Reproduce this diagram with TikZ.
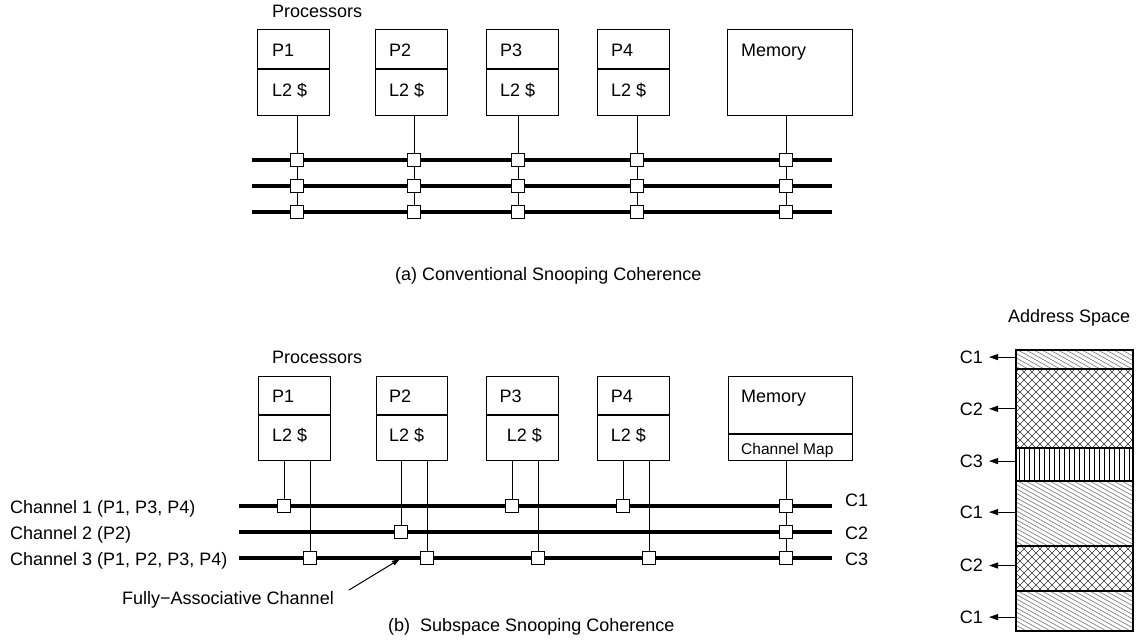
\documentclass[tikz,border=0pt]{standalone}
\usepackage{fontspec}
\setmainfont{Liberation Sans}
\usetikzlibrary{arrows.meta,backgrounds}

% hatchings for the address-space bands (top y, bottom y)
\newcommand\hatchdiag[2]{%
  \begin{scope}
    \clip (1015,#1) rectangle (1132,#2);
    \foreach \x in {872,880,...,1136} \draw[diagline] (\x,#1) -- ++(160,88);
  \end{scope}}
\newcommand\hatchcross[2]{%
  \begin{scope}
    \clip (1015,#1) rectangle (1132,#2);
    \foreach \x in {900,908,...,1248} {
      \draw[crossline] (\x,#1) -- ++(110,110);
      \draw[crossline] (\x,#1) -- ++(-110,110);}
  \end{scope}}
\newcommand\hatchvert[2]{%
  \begin{scope}
    \clip (1015,#1) rectangle (1132,#2);
    \foreach \x in {1019,1024,...,1130} \draw[vertline] (\x,#1) -- (\x,#2);
  \end{scope}}

\begin{document}
\begin{tikzpicture}[x=1pt,y=-1pt,
  txt/.style={anchor=base west,inner sep=0pt,font=\fontsize{18pt}{21pt}\selectfont},
  rtxt/.style={txt,anchor=base east},
  smalltxt/.style={anchor=base west,inner sep=0pt,font=\fontsize{15.5pt}{18pt}\selectfont},
  unitbox/.style={draw,line width=1.2pt,anchor=north west,inner sep=0pt},
  sq/.style={draw,fill=white,line width=1pt,minimum size=12.5pt,inner sep=0pt},
  bus/.style={line width=4pt},
  wire/.style={line width=1pt},
  divider/.style={line width=1.1pt},
  seg/.style={draw,line width=1.5pt,anchor=north west,inner sep=0pt,minimum width=117pt},
  diagline/.style={line width=0.6pt,black!55},
  crossline/.style={line width=0.6pt,black!80},
  vertline/.style={line width=0.8pt,black},
  ptr/.style={line width=1pt,-{Triangle[length=9pt,width=6pt]}},
]
\useasboundingbox (0,0) rectangle (1137,640);

% ---------------- (a) conventional snooping ----------------
\node[txt] (aproc) at (272,17.3) {Processors};

\node[unitbox,minimum width=72pt,minimum height=86pt] (ap1) at (257,29) {};
\node[unitbox,minimum width=72pt,minimum height=86pt] (ap2) at (375,29) {};
\node[unitbox,minimum width=72pt,minimum height=86pt] (ap3) at (486,29) {};
\node[unitbox,minimum width=72pt,minimum height=86pt] (ap4) at (597,29) {};
\node[unitbox,minimum width=125pt,minimum height=86pt] (amem) at (727,29) {};
\draw[divider] (257,69) -- (329,69);
\draw[divider] (375,69) -- (447,69);
\draw[divider] (486,69) -- (558,69);
\draw[divider] (597,69) -- (669,69);

\node[txt] (ap1n) at (272,56) {P1};
\node[txt] (ap2n) at (389,56) {P2};
\node[txt] (ap3n) at (500,56) {P3};
\node[txt] (ap4n) at (611,56) {P4};
\node[txt] (ap1c) at (272,96) {L2 \$};
\node[txt] (ap2c) at (389,96) {L2 \$};
\node[txt] (ap3c) at (500,96) {L2 \$};
\node[txt] (ap4c) at (611,96) {L2 \$};
\node[txt] (amemn) at (741,56.7) {Memory};

\coordinate (ab1w) at (252,160); \coordinate (ab1e) at (832,160);
\coordinate (ab2w) at (252,186); \coordinate (ab2e) at (832,186);
\coordinate (ab3w) at (252,212); \coordinate (ab3e) at (832,212);

\foreach \n/\x in {1/297,2/414,3/518,4/637,m/786} {
  \node[sq] (a\n1) at (\x,160) {};
  \node[sq] (a\n2) at (\x,186) {};
  \node[sq] (a\n3) at (\x,212) {};
}

\begin{pgfonlayer}{background}
  \draw[bus] (ab1w) -- (ab1e);
  \draw[bus] (ab2w) -- (ab2e);
  \draw[bus] (ab3w) -- (ab3e);
  \draw[wire] (a11 |- ap1.south) -- (a13);
  \draw[wire] (a21 |- ap2.south) -- (a23);
  \draw[wire] (a31 |- ap3.south) -- (a33);
  \draw[wire] (a41 |- ap4.south) -- (a43);
  \draw[wire] (am1 |- amem.south) -- (am3);
\end{pgfonlayer}

\node[txt] (acap) at (395,280) {(a) Conventional Snooping Coherence};

% ---------------- (b) subspace snooping ----------------
\node[txt] (bproc) at (272,363.3) {Processors};

\node[unitbox,minimum width=72pt,minimum height=84pt] (bp1) at (258,376) {};
\node[unitbox,minimum width=71pt,minimum height=84pt] (bp2) at (376,376) {};
\node[unitbox,minimum width=72pt,minimum height=84pt] (bp3) at (486,376) {};
\node[unitbox,minimum width=72pt,minimum height=84pt] (bp4) at (597,376) {};
\node[unitbox,minimum width=124pt,minimum height=84pt] (bmem) at (728,376) {};
\draw[divider] (258,415) -- (330,415);
\draw[divider] (376,415) -- (447,415);
\draw[divider] (486,415) -- (558,415);
\draw[divider] (597,415) -- (669,415);
\draw[divider] (728,434) -- (852,434);

\node[txt] (bp1n) at (272,402.3) {P1};
\node[txt] (bp2n) at (389,402.3) {P2};
\node[txt] (bp3n) at (499.3,402.3) {P3};
\node[txt] (bp4n) at (610.7,402.3) {P4};
\node[txt] (bp1c) at (272,441) {L2 \$};
\node[txt] (bp2c) at (389,441) {L2 \$};
\node[txt] (bp3c) at (506.7,441) {L2 \$};
\node[txt] (bp4c) at (610.7,441) {L2 \$};
\node[txt] (bmemn) at (741,402.3) {Memory};
\node[smalltxt] (bmap) at (741,454) {Channel Map};

\coordinate (bb1w) at (239,506); \coordinate (bb1e) at (832,506);
\coordinate (bb2w) at (239,532); \coordinate (bb2e) at (832,532);
\coordinate (bb3w) at (239,558); \coordinate (bb3e) at (832,558);

% channel 1 snoopers
\node[sq] (c1p1) at (284,506) {};
\node[sq] (c1p3) at (512,506) {};
\node[sq] (c1p4) at (623,506) {};
\node[sq] (c1m)  at (786,506) {};
% channel 2 snoopers
\node[sq] (c2p2) at (401,532) {};
\node[sq] (c2m)  at (786,532) {};
% channel 3 snoopers
\node[sq] (c3p1) at (310,558) {};
\node[sq] (c3p2) at (427,558) {};
\node[sq] (c3p3) at (538,558) {};
\node[sq] (c3p4) at (649,558) {};
\node[sq] (c3m)  at (786,558) {};

\coordinate (fatip) at (400,559);
\coordinate (fatail) at (349,590);

\begin{pgfonlayer}{background}
  \draw[bus] (bb1w) -- (bb1e);
  \draw[bus] (bb2w) -- (bb2e);
  \draw[bus] (bb3w) -- (bb3e);
  \draw[wire] (c1p1 |- bp1.south) -- (c1p1);
  \draw[wire] (c3p1 |- bp1.south) -- (c3p1);
  \draw[wire] (c2p2 |- bp2.south) -- (c2p2);
  \draw[wire] (c3p2 |- bp2.south) -- (c3p2);
  \draw[wire] (c1p3 |- bp3.south) -- (c1p3);
  \draw[wire] (c3p3 |- bp3.south) -- (c3p3);
  \draw[wire] (c1p4 |- bp4.south) -- (c1p4);
  \draw[wire] (c3p4 |- bp4.south) -- (c3p4);
  \draw[wire] (c1m |- bmem.south) -- (c3m);
\end{pgfonlayer}

\node[txt] (ch1) at (10,513) {Channel 1 (P1, P3, P4)};
\node[txt] (ch2) at (10,539.3) {Channel 2 (P2)};
\node[txt] (ch3) at (10,565.3) {Channel 3 (P1, P2, P3, P4)};

\node[txt] (cl1) at (845,506.7) {C1};
\node[txt] (cl2) at (845,539) {C2};
\node[txt] (cl3) at (845,565) {C3};

\node[txt] (fa) at (122,604) {Fully−Associative Channel};
\draw[line width=1pt,-{Triangle[length=8pt,width=5pt]}] (fatail) -- (fatip);

\node[txt] (bcap) at (388,631.7) {(b)\ \ Subspace Snooping Coherence};

% ---------------- address space ----------------
\node[txt] (ashead) at (1008,322.7) {Address Space};

\hatchdiag{349}{368}
\hatchcross{368}{447}
\hatchvert{447}{480}
\hatchdiag{480}{545}
\hatchcross{545}{590}
\hatchdiag{590}{630}

\node[seg,minimum height=19pt] (r1) at (1015,349) {};
\node[seg,minimum height=79pt] (r2) at (1015,368) {};
\node[seg,minimum height=33pt] (r3) at (1015,447) {};
\node[seg,minimum height=65pt] (r4) at (1015,480) {};
\node[seg,minimum height=45pt] (r5) at (1015,545) {};
\node[seg,minimum height=40pt] (r6) at (1015,590) {};

\node[rtxt] (m1) at (983,363.3) {C1};
\node[rtxt] (m2) at (983,415) {C2};
\node[rtxt] (m3) at (983,467.3) {C3};
\node[rtxt] (m4) at (983,518.3) {C1};
\node[rtxt] (m5) at (983,571.7) {C2};
\node[rtxt] (m6) at (983,623.3) {C1};

\foreach \i in {1,...,6}
  \draw[ptr,shorten >=6pt] (r\i.west |- m\i.east) -- (m\i.east);

\end{tikzpicture}
\end{document}
